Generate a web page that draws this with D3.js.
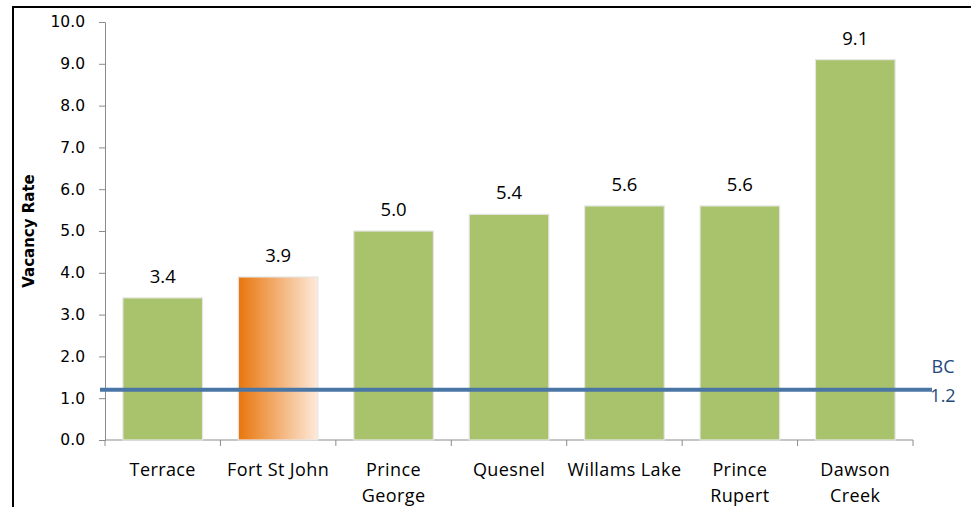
<!DOCTYPE html>
<html><head><meta charset="utf-8">
<script src="https://cdn.jsdelivr.net/npm/d3@7"></script>
<style>body{margin:0;background:#fff}svg{display:block}</style>
</head><body>
<svg id="c" width="971" height="507"></svg>
<script>
const categories = ["Terrace","Fort St John","Prince George","Quesnel","Willams Lake","Prince Rupert","Dawson Creek"];
const labelLines = [["Terrace"],["Fort St John"],["Prince","George"],["Quesnel"],["Willams Lake"],["Prince","Rupert"],["Dawson","Creek"]];
const values = [3.4,3.9,5.0,5.4,5.6,5.6,9.1];
const highlight = "Fort St John";
const bcValue = 1.2;
const yTicks = [0,1,2,3,4,5,6,7,8,9,10];

const svg = d3.select("#c");
const x0 = 105, x1 = 913, yb = 440, yt = 22;
const x = d3.scaleBand().domain(categories).range([x0,x1]).paddingInner(0.31).paddingOuter(0.155);
const y = d3.scaleLinear().domain([0,10]).range([yb,yt]);
const lblFont = "Open Sans";

const defs = svg.append("defs");
const g = defs.append("linearGradient").attr("id","og").attr("x1","0%").attr("x2","100%");
g.append("stop").attr("offset","0%").attr("stop-color","#e8760c");
g.append("stop").attr("offset","100%").attr("stop-color","#fdeadc");

// frame
svg.append("line").attr("x1",13).attr("x2",971).attr("y1",7).attr("y2",7).attr("stroke","#000").attr("stroke-width",2);
svg.append("line").attr("x1",13).attr("x2",13).attr("y1",6).attr("y2",507).attr("stroke","#000").attr("stroke-width",2);

// y axis
const ya = svg.append("g").attr("transform",`translate(${x0},0)`)
  .call(d3.axisLeft(y).tickValues(yTicks).tickFormat(d3.format(".1f")).tickSize(6).tickPadding(14));
ya.select(".domain").attr("stroke","#8c8c8c");
ya.selectAll(".tick line").attr("stroke","#8c8c8c");
ya.selectAll("text").attr("font-family","DejaVu Sans").attr("font-size",15.5).attr("fill","#000");

// x axis
const xa = svg.append("g").attr("transform",`translate(0,${yb})`);
xa.append("line").attr("x1",x0).attr("x2",x1).attr("stroke","#8c8c8c");
const bounds = categories.map((c,i)=>x0 + i*((x1-x0)/categories.length)).concat([x1]);
xa.selectAll("line.t").data(bounds).join("line").attr("class","t")
  .attr("x1",d=>d).attr("x2",d=>d).attr("y1",0).attr("y2",6).attr("stroke","#8c8c8c");

// bars
svg.selectAll("rect.bar").data(values).join("rect").attr("class","bar")
  .attr("x",(d,i)=>x(categories[i])).attr("width",x.bandwidth())
  .attr("y",d=>y(d)).attr("height",d=>yb-y(d))
  .attr("fill",(d,i)=>categories[i]===highlight?"url(#og)":"#a9c26c")
  .attr("stroke","#e6e6e6").attr("stroke-width",1.2);

// value labels
svg.selectAll("text.val").data(values).join("text").attr("class","val")
  .attr("x",(d,i)=>x(categories[i])+x.bandwidth()/2).attr("y",d=>y(d)-15)
  .attr("text-anchor","middle").attr("font-family",lblFont).attr("font-size",18.5).attr("fill","#000")
  .text(d=>d.toFixed(1));

// category labels
const cl = svg.selectAll("text.cat").data(labelLines).join("text").attr("class","cat")
  .attr("text-anchor","middle").attr("font-family",lblFont).attr("font-size",18).attr("letter-spacing",0.4).attr("fill","#000");
cl.each(function(lines,i){
  const cx = x(categories[i])+x.bandwidth()/2;
  d3.select(this).selectAll("tspan").data(lines).join("tspan")
    .attr("x",cx).attr("y",(d,j)=>476+j*26).text(d=>d);
});

// BC line
svg.append("line").attr("x1",100).attr("x2",932).attr("y1",y(bcValue)).attr("y2",y(bcValue))
  .attr("stroke","#4a76a6").attr("stroke-width",4);
svg.append("text").attr("x",943).attr("y",y(bcValue)-17).attr("text-anchor","middle")
  .attr("font-family",lblFont).attr("font-size",18).attr("fill","#1f497d").text("BC");
svg.append("text").attr("x",943).attr("y",y(bcValue)+12).attr("text-anchor","middle")
  .attr("font-family",lblFont).attr("font-size",18).attr("fill","#1f497d").text(bcValue.toFixed(1));

// y title
svg.append("text").attr("transform","translate(34,231) rotate(-90)").attr("text-anchor","middle")
  .attr("font-family","DejaVu Sans").attr("font-weight","bold").attr("font-size",15).attr("fill","#000").text("Vacancy Rate");
</script>
</body></html>
